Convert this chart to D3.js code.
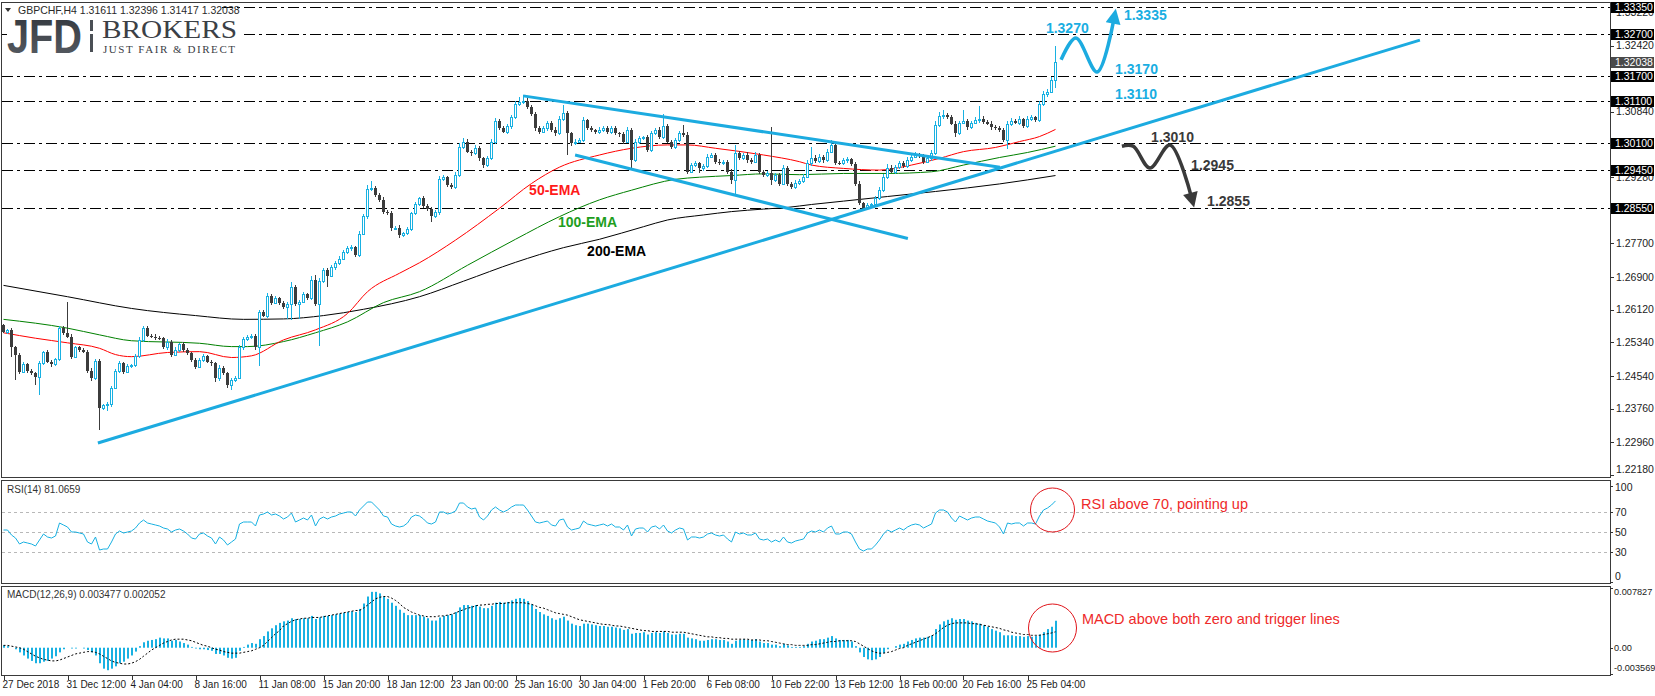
<!DOCTYPE html>
<html>
<head>
<meta charset="utf-8">
<script src="https://cdnjs.cloudflare.com/ajax/libs/d3/7.8.5/d3.min.js"></script>
<style>
body { margin: 0; background: #fff; }
svg { display: block; font-family: "Liberation Sans", Arial, sans-serif; }
</style>
</head>
<body>
<script>
// GBPCHF H4 candles (close of each bar, open = previous close)
var firstOpen = 1.2575;
var closes = [
 1.2560,1.2563,1.2524,1.2504,1.2464,1.2482,1.2467,1.2460,1.2452,1.2484,
 1.2510,1.2488,1.2482,1.2494,1.2568,1.2557,1.2548,1.2500,1.2522,1.2517,
 1.2512,1.2467,1.2448,1.2490,1.2378,1.2385,1.2386,1.2426,1.2467,1.2484,
 1.2464,1.2478,1.2480,1.2502,1.2540,1.2568,1.2550,1.2548,1.2545,1.2544,
 1.2522,1.2536,1.2505,1.2517,1.2530,1.2516,1.2509,1.2492,1.2476,1.2492,
 1.2502,1.2488,1.2484,1.2448,1.2474,1.2460,1.2432,1.2444,1.2450,1.2522,
 1.2541,1.2548,1.2550,1.2522,1.2606,1.2598,1.2645,1.2629,1.2639,1.2629,
 1.2619,1.2625,1.2665,1.2625,1.2631,1.2649,1.2641,1.2683,1.2625,1.2681,
 1.2707,1.2693,1.2713,1.2724,1.2734,1.2750,1.2758,1.2761,1.2742,1.2793,
 1.2835,1.2901,1.2903,1.2886,1.2874,1.2846,1.2843,1.2806,1.2808,1.2790,
 1.2794,1.2805,1.2842,1.2864,1.2878,1.2860,1.2852,1.2835,1.2846,1.2924,
 1.2928,1.2910,1.2905,1.2933,1.3001,1.3013,1.2989,1.2985,1.2998,1.2973,
 1.2957,1.2973,1.3013,1.3061,1.3045,1.3037,1.3049,1.3072,1.3103,1.3108,
 1.3110,1.3095,1.3079,1.3045,1.3037,1.3045,1.3057,1.3041,1.3033,1.3068,
 1.3080,1.3033,1.3009,1.3013,1.3017,1.3064,1.3045,1.3041,1.3037,1.3041,
 1.3045,1.3037,1.3045,1.3033,1.3031,1.3013,1.3041,1.2969,1.3013,1.3021,
 1.3023,1.2993,1.3033,1.3041,1.3025,1.3049,1.3013,1.3001,1.3017,1.3033,
 1.3029,1.2941,1.2957,1.2961,1.2949,1.2955,1.2977,1.2981,1.2965,1.2961,
 1.2965,1.2941,1.2921,1.2985,1.2973,1.2981,1.2969,1.2965,1.2981,1.2941,
 1.2933,1.2937,1.2921,1.2933,1.2913,1.2949,1.2913,1.2905,1.2915,1.2919,
 1.2929,1.2961,1.2975,1.2967,1.2977,1.2969,1.2989,1.3005,1.2963,1.2961,
 1.2969,1.2971,1.2960,1.2913,1.2866,1.2854,1.2862,1.2863,1.2878,1.2898,
 1.2929,1.2951,1.2941,1.2953,1.2961,1.2955,1.2969,1.2977,1.2982,1.2979,
 1.2965,1.2973,1.2985,1.3052,1.3074,1.3076,1.3072,1.3056,1.3033,1.3058,
 1.3062,1.3047,1.3058,1.3064,1.3068,1.3060,1.3056,1.3047,1.3045,1.3041,
 1.3017,1.3055,1.3063,1.3058,1.3066,1.3050,1.3068,1.3071,1.3064,1.3103,
 1.3126,1.3132,1.3160,1.32038
];
// upper / lower shadow of each candle, in pips
var upWick = [
 4,3,5,2,4,6,3,4,3,5, 4,6,3,4,5,4,73,5,4,3, 4,3,6,5,4,3,5,4,3,6, 4,5,3,4,6,5,4,3,5,4,
 3,5,4,6,3,4,5,3,4,6, 4,3,5,4,6,3,4,5,3,6, 5,4,3,4,6,5,8,4,5,3, 4,6,14,5,3,5,4,9,12,6,
 5,4,6,3,5,4,6,5,4,7, 6,9,16,5,4,6,3,5,4,6, 4,5,3,6,4,5,3,4,5,8, 6,4,5,7,9,8,5,4,6,5,
 4,6,7,8,5,4,6,5,7,12, 15,6,5,4,6,5,4,5,6,7, 20,5,4,6,5,8,4,5,3,6, 5,4,6,5,3,5,7,4,6,5,
 4,6,5,4,6,30,5,4,5,6, 20,8,5,6,4,5,6,5,4,6, 5,4,6,20,5,4,6,5,7,4, 5,6,111,5,4,8,5,4,6,5,
 6,8,25,5,6,4,7,12,5,4, 5,6,4,5,6,3,5,4,6,7, 6,8,5,4,6,5,7,5,6,4, 5,6,8,9,10,12,5,4,6,5,
 26,6,5,7,30,5,4,6,5,4, 5,8,6,5,7,4,6,5,4,6, 7,6,8,36
];
var dnWick = [
 4,5,24,60,5,4,6,4,20,44, 5,4,6,5,4,5,4,6,4,5, 4,6,5,4,53,6,14,5,4,6, 5,4,6,5,4,5,3,4,6,5,
 4,6,5,4,5,6,4,5,6,4, 5,4,6,8,5,4,6,12,5,4, 5,4,6,5,45,4,6,5,4,6, 5,30,37,5,36,4,6,5,4,100,
 5,26,4,6,5,4,5,6,4,5, 4,6,5,4,6,5,4,6,5,6, 5,4,6,5,4,6,5,14,5,8, 4,6,5,4,5,6,4,7,5,6,
 7,5,4,6,5,4,6,5,4,5, 6,5,4,6,5,4,6,5,7,4, 5,52,6,5,4,6,5,4,6,5, 4,6,5,4,6,5,4,20,5,6,
 5,6,4,5,6,5,4,6,5,4, 5,6,4,5,12,6,5,4,6,5, 4,6,8,37,5,4,6,5,4,6, 5,4,12,5,6,4,6,5,4,6,
 5,4,6,5,4,6,5,4,6,5, 4,6,5,6,4,3,5,4,6,5, 6,5,4,6,5,4,6,5,4,6, 5,4,6,5,4,6,5,4,8,5,
 4,6,5,4,6,5,4,6,5,4, 6,22,5,4,6,5,4,6,5,4, 5,6,4,19
];

// moving averages, [bar, price]
var ema50 = [[0,1.2557],[8,1.2544],[16,1.2533],[24,1.2520],[28,1.2505],[32,1.2500],[41,1.2510],
 [49,1.2512],[57,1.2498],[62,1.2502],[70,1.2540],[78,1.2564],[86,1.2603],[91,1.2655],[99,1.2699],
 [104,1.2724],[113,1.2778],[124,1.2854],[132,1.2913],[139,1.2952],[149,1.2981],[157,1.2997],
 [166,1.3005],[171,1.3005],[178,1.2997],[190,1.2981],[199,1.2965],[202,1.2957],[210,1.2949],
 [219,1.2945],[227,1.2957],[234,1.2973],[240,1.2989],[248,1.2999],[254,1.3013],[259,1.3025],[263,1.3042]];
var ema100 = [[0,1.2589],[16,1.2568],[24,1.2552],[32,1.2538],[49,1.2532],[57,1.2524],[61,1.2524],
 [70,1.2536],[78,1.2557],[86,1.2583],[95,1.2629],[104,1.2655],[116,1.2718],[128,1.2780],[139,1.2834],
 [149,1.2874],[157,1.2897],[168,1.2923],[174,1.2928],[182,1.2932],[190,1.2936],[199,1.2934],
 [210,1.2937],[221,1.2937],[232,1.2941],[240,1.2957],[249,1.2975],[256,1.2987],[263,1.3002]];
var ema200 = [[0,1.2670],[16,1.2643],[32,1.2615],[48,1.2598],[60,1.2589],[70,1.2590],[80,1.2598],
 [90,1.2613],[104,1.2643],[115,1.2680],[128,1.2725],[140,1.2760],[149,1.2780],[160,1.2810],
 [166,1.2826],[175,1.2838],[182,1.2846],[190,1.2852],[196,1.2856],[202,1.2863],[210,1.2871],
 [221,1.2882],[233,1.2894],[249,1.2912],[263,1.2932]];

// RSI(14)
var rsiValues = [
 52,52,47,44,38,40,39,38,36,42, 48,45,44,46,59,57,55,50,50,49, 48,40,38,45,32,33,33,40,48,51,
 49,50,51,54,59,62,59,58,57,56, 54,53,50,52,53,51,48,44,43,48, 49,46,44,38,45,42,37,40,43,58,
 60,60,60,56,67,68,70,67,68,66, 63,65,69,60,62,64,62,67,56,63, 65,63,65,66,68,69,70,70,66,72,
 76,80,80,76,72,66,65,58,56,55, 56,59,65,67,66,63,59,58,60,70, 70,68,69,71,79,79,75,73,74,65,
 62,66,72,75,72,70,72,75,77,77, 77,72,66,60,59,60,61,57,56,62, 63,55,52,53,54,61,58,57,56,57,
 58,56,58,55,55,52,57,46,53,54, 54,50,55,56,53,57,51,49,52,54, 53,42,45,45,44,45,48,49,47,46,
 47,43,40,50,48,49,47,47,49,43, 42,43,40,42,40,45,40,39,41,42, 43,49,51,50,52,50,54,56,48,48,
 50,50,48,40,33,31,33,33,37,42, 48,52,50,52,54,52,55,57,58,57, 54,56,58,69,72,72,70,64,60,66,
 64,62,64,65,65,63,61,60,59,55, 48,59,58,59,59,56,59,59,58,66, 72,74,77,81.0659
];

// MACD(12,26,9): main histogram and signal
var macdHist = [
 0.0003,0.0002,0.0000,-0.0002,-0.0006,-0.0010,-0.0014,-0.0017,-0.0020,-0.0020,
 -0.0018,-0.0017,-0.0014,-0.0011,-0.0006,-0.0002,0.0000,-0.0001,-0.0001,0.0000,
 -0.0001,-0.0003,-0.0006,-0.0010,-0.0020,-0.0027,-0.0029,-0.0027,-0.0024,-0.0020,
 -0.0018,-0.0014,-0.0010,-0.0005,0.0002,0.0007,0.0009,0.0010,0.0011,0.0013,
 0.0012,0.0012,0.0009,0.0010,0.0008,0.0006,0.0004,0.0001,-0.0001,-0.0002,
 -0.0002,-0.0003,-0.0004,-0.0008,-0.0008,-0.0010,-0.0013,-0.0014,-0.0013,-0.0004,
 0.0001,0.0004,0.0006,0.0005,0.0011,0.0015,0.0021,0.0025,0.0029,0.0032,
 0.0034,0.0035,0.0038,0.0037,0.0037,0.0038,0.0038,0.0041,0.0037,0.0039,
 0.0041,0.0041,0.0042,0.0043,0.0044,0.0045,0.0046,0.0047,0.0046,0.0050,
 0.0057,0.0066,0.0072,0.0072,0.0070,0.0066,0.0063,0.0058,0.0054,0.0049,
 0.0045,0.0042,0.0042,0.0042,0.0042,0.0040,0.0038,0.0035,0.0035,0.0039,
 0.0041,0.0042,0.0043,0.0046,0.0052,0.0055,0.0055,0.0054,0.0055,0.0053,
 0.0051,0.0051,0.0054,0.0058,0.0059,0.0058,0.0059,0.0061,0.0063,0.0064,
 0.0063,0.0060,0.0056,0.0050,0.0046,0.0043,0.0041,0.0038,0.0036,0.0038,
 0.0040,0.0035,0.0031,0.0029,0.0028,0.0031,0.0031,0.0030,0.0029,0.0028,
 0.0028,0.0027,0.0027,0.0026,0.0025,0.0023,0.0024,0.0018,0.0019,0.0019,
 0.0020,0.0017,0.0019,0.0020,0.0019,0.0021,0.0019,0.0017,0.0017,0.0018,
 0.0018,0.0013,0.0012,0.0011,0.0009,0.0009,0.0010,0.0011,0.0011,0.0010,
 0.0010,0.0008,0.0005,0.0009,0.0010,0.0011,0.0010,0.0010,0.0011,0.0008,
 0.0006,0.0006,0.0004,0.0004,0.0002,0.0005,0.0003,0.0001,0.0001,0.0001,
 0.0002,0.0005,0.0008,0.0009,0.0011,0.0011,0.0013,0.0015,0.0012,0.0010,
 0.0010,0.0010,0.0008,0.0002,-0.0006,-0.0012,-0.0015,-0.0016,-0.0015,-0.0012,
 -0.0007,-0.0002,0.0000,0.0002,0.0004,0.0005,0.0008,0.0010,0.0012,0.0013,
 0.0013,0.0014,0.0016,0.0024,0.0030,0.0034,0.0036,0.0038,0.0036,0.0037,
 0.0037,0.0035,0.0034,0.0032,0.0031,0.0029,0.0027,0.0024,0.0022,0.0020,
 0.0016,0.0016,0.0016,0.0015,0.0015,0.0014,0.0015,0.0014,0.0015,0.0017,
 0.0020,0.0024,0.0027,0.003477
];
var macdSignal = [
 0.0003,0.0003,0.0002,0.0001,0.0000,-0.0002,-0.0005,-0.0008,-0.0011,-0.0013,
 -0.0015,-0.0016,-0.0017,-0.0017,-0.0016,-0.0014,-0.0012,-0.0010,-0.0008,-0.0007,
 -0.0006,-0.0005,-0.0005,-0.0006,-0.0008,-0.0011,-0.0014,-0.0017,-0.0019,-0.0020,
 -0.0021,-0.0021,-0.0020,-0.0018,-0.0015,-0.0011,-0.0007,-0.0003,0.0000,0.0003,
 0.0006,0.0008,0.0010,0.0011,0.0011,0.0011,0.0010,0.0009,0.0007,0.0005,
 0.0003,0.0002,0.0000,-0.0002,-0.0003,-0.0005,-0.0006,-0.0007,-0.0007,-0.0007,
 -0.0006,-0.0005,-0.0004,-0.0002,0.0000,0.0003,0.0008,0.0013,0.0018,0.0022,
 0.0028,0.0031,0.0034,0.0036,0.0037,0.0038,0.0038,0.0039,0.0039,0.0039,
 0.0040,0.0041,0.0042,0.0043,0.0044,0.0045,0.0046,0.0047,0.0048,0.0048,
 0.0051,0.0055,0.0059,0.0063,0.0065,0.0066,0.0066,0.0064,0.0061,0.0057,
 0.0052,0.0049,0.0046,0.0044,0.0042,0.0041,0.0040,0.0040,0.0040,0.0041,
 0.0041,0.0042,0.0043,0.0045,0.0047,0.0049,0.0051,0.0052,0.0054,0.0055,
 0.0055,0.0056,0.0056,0.0057,0.0057,0.0057,0.0058,0.0058,0.0058,0.0058,
 0.0058,0.0057,0.0056,0.0054,0.0052,0.0051,0.0049,0.0047,0.0045,0.0044,
 0.0043,0.0042,0.0040,0.0038,0.0036,0.0035,0.0034,0.0033,0.0032,0.0031,
 0.0030,0.0030,0.0029,0.0028,0.0028,0.0027,0.0026,0.0025,0.0024,0.0023,
 0.0022,0.0022,0.0021,0.0021,0.0021,0.0021,0.0021,0.0020,0.0020,0.0020,
 0.0020,0.0019,0.0018,0.0017,0.0016,0.0015,0.0014,0.0014,0.0013,0.0013,
 0.0012,0.0012,0.0011,0.0011,0.0011,0.0011,0.0011,0.0010,0.0010,0.0010,
 0.0009,0.0009,0.0008,0.0007,0.0006,0.0005,0.0004,0.0004,0.0003,0.0003,
 0.0003,0.0003,0.0004,0.0004,0.0005,0.0006,0.0007,0.0008,0.0008,0.0009,
 0.0009,0.0009,0.0009,0.0008,0.0005,0.0002,-0.0001,-0.0004,-0.0006,-0.0007,
 -0.0007,-0.0006,-0.0005,-0.0003,-0.0001,0.0000,0.0003,0.0005,0.0007,0.0009,
 0.0011,0.0013,0.0015,0.0018,0.0022,0.0026,0.0029,0.0031,0.0032,0.0032,
 0.0032,0.0032,0.0031,0.0031,0.0030,0.0029,0.0028,0.0027,0.0026,0.0025,
 0.0023,0.0022,0.0020,0.0019,0.0018,0.0017,0.0017,0.0016,0.0016,0.0016,
 0.0017,0.0018,0.0019,0.002052
];

// horizontal support / resistance levels and axis ticks
var levels = [1.3335, 1.3270, 1.3170, 1.3110, 1.3010, 1.2945, 1.2855];
var priceTicks = [1.2218,1.2296,1.2376,1.2454,1.2534,1.2612,1.2690,1.2770,1.2848,1.2928,1.3006,1.3084,1.3164,1.3242,1.3322];
var timeLabels = ["27 Dec 2018","31 Dec 12:00","4 Jan 04:00","8 Jan 16:00","11 Jan 08:00","15 Jan 20:00",
 "18 Jan 12:00","23 Jan 00:00","25 Jan 16:00","30 Jan 04:00","1 Feb 20:00","6 Feb 08:00","10 Feb 22:00",
 "13 Feb 12:00","18 Feb 00:00","20 Feb 16:00","25 Feb 04:00"];
var labelEvery = 16;

// trend lines and the scenario arrows, [bar, price]
var upTrend = [[23.6,1.2294],[354.1,1.3255]];
var channelTop = [[129.9,1.3122],[249.1,1.2952]];
var channelBottom = [[142.9,1.2981],[226.1,1.2782]];
var bullPath = [[264.4,1.3208],[268.1,1.3260],[273.4,1.3179],[277.6,1.3305]];
var bearPath = [[279.6,1.3002],[282.4,1.3002],[286.6,1.2950],[291.6,1.3005],[297.0,1.2880]];
var bullTargets = [["1.3270",260.6,1.3272],["1.3335",280.1,1.3303],["1.3170",277.9,1.3174],["1.3110",277.9,1.3115]];
var bearTargets = [["1.3010",286.9,1.3012],["1.2945",296.9,1.2945],["1.2855",300.9,1.2859]];

var W = 1655, H = 696;
var left = 1.5, right = 1610.5;
var mainTop = 2.5, mainBottom = 477.5, rsiTop = 480.5, rsiBottom = 583.5, macdTop = 586.5, macdBottom = 675.5;
var bullColor = "#19b1e2", bearColor = "#3c3c3c", lineBlue = "#1cabe0";
var pip = 0.0001;

var svg = d3.select("body")
    .append("svg")
    .attr("width", W)
    .attr("height", H);

svg.append("rect").attr("width", W).attr("height", H).attr("fill", "#fff");

//scales
var x = d3.scaleLinear().domain([0, 400]).range([3.5, 1603.5]);
var y = d3.scaleLinear().domain([1.2213, 1.33459]).range([477, 2]);
var yRsi = d3.scaleLinear().domain([0, 100]).range([582, 482]);
var yMacd = d3.scaleLinear().domain([-0.003569, 0.007827]).range([675.4, 587]);

var defs = svg.append("defs");
defs.append("clipPath").attr("id", "clipMain")
    .append("rect").attr("x", 2).attr("y", 3).attr("width", 1608).attr("height", 474);
defs.append("clipPath").attr("id", "clipRsi")
    .append("rect").attr("x", 2).attr("y", 481).attr("width", 1608).attr("height", 102);
defs.append("clipPath").attr("id", "clipMacd")
    .append("rect").attr("x", 2).attr("y", 587).attr("width", 1608).attr("height", 88);

function arrowMarker(id, color){
    defs.append("marker")
        .attr("id", id)
        .attr("viewBox", "0 0 10 10")
        .attr("refX", 3)
        .attr("refY", 5)
        .attr("markerUnits", "userSpaceOnUse")
        .attr("markerWidth", 16)
        .attr("markerHeight", 15)
        .attr("orient", "auto")
        .append("path")
        .attr("d", "M0,0 L10,5 L0,10 Z")
        .attr("fill", color);
}
arrowMarker("arrowBlue", lineBlue);
arrowMarker("arrowDark", "#3a3a3a");

var grad = defs.append("linearGradient").attr("id", "jfdGrad")
    .attr("x1", 0).attr("y1", 0).attr("x2", 0).attr("y2", 1);
grad.append("stop").attr("offset", "0%").attr("stop-color", "#30353b");
grad.append("stop").attr("offset", "100%").attr("stop-color", "#5a5f66");

//main price panel
var main = svg.append("g").attr("clip-path", "url(#clipMain)");

main.selectAll(".level")
    .data(levels)
    .enter()
    .append("line")
    .attr("class", "level")
    .attr("x1", 2)
    .attr("x2", 1610)
    .attr("y1", function(d){ return Math.round(y(d)) + 0.5; })
    .attr("y2", function(d){ return Math.round(y(d)) + 0.5; })
    .attr("stroke", "#000")
    .attr("stroke-width", 1)
    .attr("stroke-dasharray", "11,4,3,4");

var emaLine = d3.line()
    .x(function(d){ return x(d[0]); })
    .y(function(d){ return y(d[1]); })
    .curve(d3.curveMonotoneX);

[[ema200, "#000"], [ema100, "#008000"], [ema50, "#ff0000"]].forEach(function(e){
    main.append("path")
        .attr("d", emaLine(e[0]))
        .attr("fill", "none")
        .attr("stroke", e[1])
        .attr("stroke-width", 1);
});

var candles = closes.map(function(c, i){
    var o = i === 0 ? firstOpen : closes[i - 1];
    return {
        i: i, o: o, c: c,
        h: Math.max(o, c) + upWick[i] * pip,
        l: Math.min(o, c) - dnWick[i] * pip
    };
});

main.selectAll(".wick")
    .data(candles)
    .enter()
    .append("line")
    .attr("class", "wick")
    .attr("x1", function(d){ return x(d.i); })
    .attr("x2", function(d){ return x(d.i); })
    .attr("y1", function(d){ return Math.round(y(d.h)); })
    .attr("y2", function(d){ return Math.round(y(d.l)); })
    .attr("stroke", function(d){ return d.c >= d.o ? bullColor : bearColor; });

main.selectAll(".body")
    .data(candles)
    .enter()
    .append("rect")
    .attr("class", "body")
    .attr("x", function(d){ return d.c >= d.o ? x(d.i) - 1 : x(d.i) - 1.5; })
    .attr("width", function(d){ return d.c >= d.o ? 2 : 3; })
    .attr("y", function(d){
        var top = Math.round(y(Math.max(d.o, d.c)));
        return d.c >= d.o ? top + 0.5 : top;
    })
    .attr("height", function(d){
        var h = Math.round(y(Math.min(d.o, d.c))) - Math.round(y(Math.max(d.o, d.c)));
        return Math.max(1, h);
    })
    .attr("fill", function(d){ return d.c >= d.o ? "#fff" : bearColor; })
    .attr("stroke", function(d){ return d.c >= d.o ? bullColor : "none"; })
    .attr("stroke-width", 1);

var straight = d3.line()
    .x(function(d){ return x(d[0]); })
    .y(function(d){ return y(d[1]); });

[upTrend, channelTop, channelBottom].forEach(function(t){
    main.append("path")
        .attr("d", straight(t))
        .attr("fill", "none")
        .attr("stroke", lineBlue)
        .attr("stroke-width", 3);
});

//scenario arrows
var wave = d3.line()
    .x(function(d){ return x(d[0]); })
    .y(function(d){ return y(d[1]); })
    .curve(d3.curveCatmullRom.alpha(0.5));

main.append("path")
    .attr("d", wave(bullPath))
    .attr("fill", "none")
    .attr("stroke", lineBlue)
    .attr("stroke-width", 3.5)
    .attr("marker-end", "url(#arrowBlue)");

main.append("path")
    .attr("d", wave(bearPath))
    .attr("fill", "none")
    .attr("stroke", "#3a3a3a")
    .attr("stroke-width", 3.5)
    .attr("marker-end", "url(#arrowDark)");

main.selectAll(".bullTxt")
    .data(bullTargets)
    .enter()
    .append("text")
    .attr("x", function(d){ return x(d[1]); })
    .attr("y", function(d){ return y(d[2]); })
    .attr("font-size", "14px")
    .attr("font-weight", "bold")
    .attr("fill", "#1aaee2")
    .text(function(d){ return d[0]; });

main.selectAll(".bearTxt")
    .data(bearTargets)
    .enter()
    .append("text")
    .attr("x", function(d){ return x(d[1]); })
    .attr("y", function(d){ return y(d[2]); })
    .attr("font-size", "14px")
    .attr("font-weight", "bold")
    .attr("fill", "#3a3a3a")
    .text(function(d){ return d[0]; });

//moving average labels
var emaLabels = [["50-EMA", 131.4, 1.28856, "#ff1a1a"], ["100-EMA", 138.6, 1.28093, "#1e9e1e"], ["200-EMA", 145.9, 1.27401, "#000"]];
main.selectAll(".emaTxt")
    .data(emaLabels)
    .enter()
    .append("text")
    .attr("x", function(d){ return x(d[1]); })
    .attr("y", function(d){ return y(d[2]); })
    .attr("font-size", "14px")
    .attr("font-weight", "bold")
    .attr("fill", function(d){ return d[3]; })
    .text(function(d){ return d[0]; });

//RSI panel
var rsiG = svg.append("g").attr("clip-path", "url(#clipRsi)");
rsiG.selectAll(".rsiLevel")
    .data([70, 50, 30])
    .enter()
    .append("line")
    .attr("x1", 2)
    .attr("x2", 1610)
    .attr("y1", function(d){ return yRsi(d) + 0.5; })
    .attr("y2", function(d){ return yRsi(d) + 0.5; })
    .attr("stroke", "#b8b8b8")
    .attr("stroke-dasharray", "3,3");

rsiG.append("path")
    .attr("d", d3.line()
        .x(function(d, i){ return x(i); })
        .y(function(d){ return yRsi(d); })(rsiValues))
    .attr("fill", "none")
    .attr("stroke", bullColor)
    .attr("stroke-width", 1);

//MACD panel
var macdG = svg.append("g").attr("clip-path", "url(#clipMacd)");
macdG.selectAll(".hist")
    .data(macdHist)
    .enter()
    .append("rect")
    .attr("x", function(d, i){ return x(i) - 0.5; })
    .attr("width", 2)
    .attr("y", function(d){ return d >= 0 ? yMacd(d) : yMacd(0); })
    .attr("height", function(d){ return Math.abs(yMacd(d) - yMacd(0)); })
    .attr("fill", bullColor);

macdG.append("path")
    .attr("d", d3.line()
        .x(function(d, i){ return x(i); })
        .y(function(d){ return yMacd(d); })(macdSignal))
    .attr("fill", "none")
    .attr("stroke", "#000")
    .attr("stroke-width", 1)
    .attr("stroke-dasharray", "2,2");

//panel frames
var frame = svg.append("g").attr("fill", "none").attr("stroke", "#3a3a3a").attr("stroke-width", 1);
[[mainTop, mainBottom], [rsiTop, rsiBottom], [macdTop, macdBottom]].forEach(function(p){
    frame.append("rect")
        .attr("x", left)
        .attr("y", p[0])
        .attr("width", right - left)
        .attr("height", p[1] - p[0]);
});

//price axis
var axisFont = "10.5px";
var fmt5 = d3.format(".5f");
var axis = svg.append("g").attr("font-size", axisFont).attr("fill", "#1c1c1c");

axis.selectAll(".ptick")
    .data(priceTicks)
    .enter()
    .append("line")
    .attr("x1", 1610)
    .attr("x2", 1614)
    .attr("y1", function(d){ return Math.round(y(d)) + 0.5; })
    .attr("y2", function(d){ return Math.round(y(d)) + 0.5; })
    .attr("stroke", "#333");

axis.selectAll(".plabel")
    .data(priceTicks)
    .enter()
    .append("text")
    .attr("x", 1616)
    .attr("y", function(d){ return Math.min(y(d), 469); })
    .attr("dy", "0.35em")
    .text(function(d){ return fmt5(d); });

var boxes = levels.map(function(v){ return {v: v, fill: "#000"}; });
boxes.push({v: closes[closes.length - 1], fill: "#4a4a4a"});
var boxG = axis.selectAll(".box")
    .data(boxes)
    .enter()
    .append("g");
boxG.append("rect")
    .attr("x", 1611)
    .attr("y", function(d){ return Math.round(y(d.v)) - 5; })
    .attr("width", 43)
    .attr("height", 11)
    .attr("fill", function(d){ return d.fill; });
boxG.append("text")
    .attr("x", 1615)
    .attr("y", function(d){ return Math.round(y(d.v)) + 0.5; })
    .attr("dy", "0.35em")
    .attr("fill", "#fff")
    .text(function(d){ return fmt5(d.v); });

//indicator axes
var rsiTicks = [[100, 487], [70, yRsi(70)], [50, yRsi(50)], [30, yRsi(30)], [0, 576]];
axis.selectAll(".rlabel")
    .data(rsiTicks)
    .enter()
    .append("text")
    .attr("x", 1615)
    .attr("y", function(d){ return d[1]; })
    .attr("dy", "0.35em")
    .text(function(d){ return d[0]; });

var macdTicks = [["0.007827", 592], ["0.00", yMacd(0)], ["-0.003569", 668]];
axis.selectAll(".mlabel")
    .data(macdTicks)
    .enter()
    .append("text")
    .attr("x", 1614)
    .attr("y", function(d){ return d[1]; })
    .attr("dy", "0.35em")
    .attr("font-size", "9.2px")
    .text(function(d){ return d[0]; });

[486, 512, 532, 552, 582, 588, 648, 674].forEach(function(v){
    axis.append("line").attr("x1", 1610).attr("x2", 1613)
        .attr("y1", v + 0.5).attr("y2", v + 0.5).attr("stroke", "#333");
});

//time axis
var tAxis = svg.append("g").attr("font-size", "10px").attr("fill", "#1c1c1c");
tAxis.selectAll(".ttick")
    .data(timeLabels)
    .enter()
    .append("line")
    .attr("x1", function(d, i){ return Math.round(x(i * labelEvery)) + 0.5; })
    .attr("x2", function(d, i){ return Math.round(x(i * labelEvery)) + 0.5; })
    .attr("y1", 676)
    .attr("y2", 680)
    .attr("stroke", "#333");
tAxis.selectAll(".tlabel")
    .data(timeLabels)
    .enter()
    .append("text")
    .attr("x", function(d, i){ return x(i * labelEvery) - 1; })
    .attr("y", 688)
    .text(function(d){ return d; });

//indicator captions
svg.append("text").attr("x", 7).attr("y", 493).attr("font-size", "10px").attr("fill", "#333")
    .text("RSI(14) 81.0659");
svg.append("text").attr("x", 7).attr("y", 598).attr("font-size", "10px").attr("fill", "#333")
    .text("MACD(12,26,9) 0.003477 0.002052");

//circled notes
var notes = [
    {cx: 262.25, cy: yRsi(72), r: 22, tx: 269.4, ty: yRsi(73), txt: "RSI above 70, pointing up"},
    {cx: 262.25, cy: yMacd(0.00254), r: 24, tx: 269.6, ty: yMacd(0.00305), txt: "MACD above both zero and trigger lines"}
];
svg.selectAll(".note")
    .data(notes)
    .enter()
    .append("circle")
    .attr("cx", function(d){ return x(d.cx); })
    .attr("cy", function(d){ return d.cy; })
    .attr("r", function(d){ return d.r; })
    .attr("fill", "none")
    .attr("stroke", "#e0151b")
    .attr("stroke-width", 1);
svg.selectAll(".noteTxt")
    .data(notes)
    .enter()
    .append("text")
    .attr("x", function(d){ return x(d.tx); })
    .attr("y", function(d){ return d.ty; })
    .attr("font-size", "14.5px")
    .attr("fill", "#ee2a2a")
    .text(function(d){ return d.txt; });

//symbol header and broker logo
svg.append("rect").attr("x", 2).attr("y", 3).attr("width", 218).attr("height", 12).attr("fill", "#fff");
svg.append("path").attr("d", "M5,8 L11,8 L8,12 Z").attr("fill", "#333");
svg.append("text").attr("x", 18).attr("y", 14).attr("font-size", "10.5px").attr("fill", "#2a2a2a")
    .text("GBPCHF,H4  1.31611 1.32396 1.31417 1.32038");

svg.append("rect").attr("x", 7).attr("y", 15).attr("width", 233).attr("height", 42).attr("fill", "#fff");
svg.append("text")
    .attr("x", 7).attr("y", 53)
    .attr("font-size", "48px")
    .attr("font-weight", "bold")
    .attr("textLength", 75)
    .attr("lengthAdjust", "spacingAndGlyphs")
    .attr("fill", "url(#jfdGrad)")
    .text("JFD");
svg.append("rect").attr("x", 90).attr("y", 20).attr("width", 3).attr("height", 11).attr("fill", "#4a4f55");
svg.append("rect").attr("x", 90).attr("y", 34).attr("width", 3).attr("height", 18).attr("fill", "#4a4f55");
svg.append("text")
    .attr("x", 102).attr("y", 38)
    .attr("font-family", "'Liberation Serif', 'Times New Roman', serif")
    .attr("font-size", "26px")
    .attr("textLength", 135)
    .attr("lengthAdjust", "spacingAndGlyphs")
    .attr("fill", "#3b4046")
    .text("BROKERS");
svg.append("text")
    .attr("x", 103).attr("y", 53)
    .attr("font-family", "'Liberation Serif', 'Times New Roman', serif")
    .attr("font-size", "11px")
    .attr("textLength", 132)
    .attr("fill", "#3b4046")
    .text("JUST FAIR & DIRECT");
</script>
</body>
</html>
